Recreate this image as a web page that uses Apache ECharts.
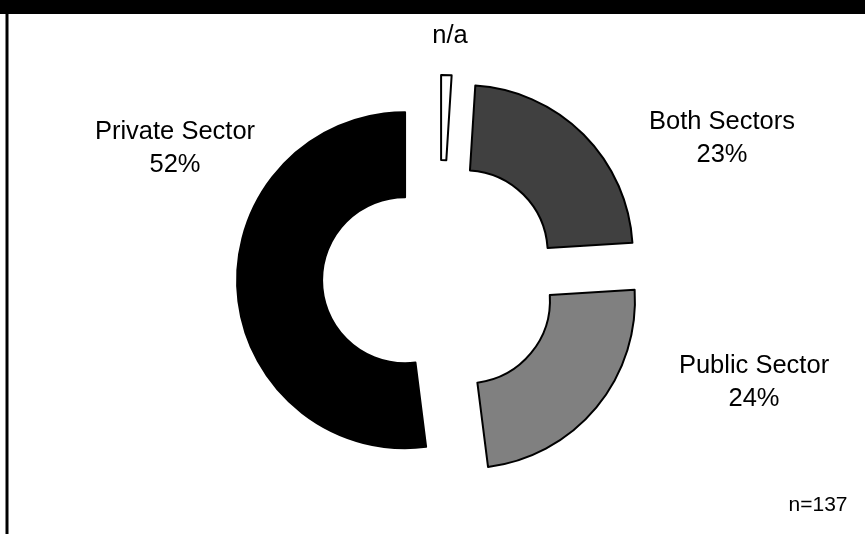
<!DOCTYPE html>
<html>
<head>
<meta charset="utf-8">
<script src="https://cdn.jsdelivr.net/npm/echarts@6/dist/echarts.min.js"></script>
<style>
  html, body { margin: 0; padding: 0; background: #ffffff; }
  #chart { width: 865px; height: 534px; }
</style>
</head>
<body>
<div id="chart"></div>
<script>
// Sector of employment, share of respondents (clockwise from 12 o'clock)
const categories = ['n/a', 'Both Sectors', 'Public Sector', 'Private Sector'];
const shares = [1, 23, 24, 52];
const sliceColors = ['#ffffff', '#404040', '#808080', '#000000'];
const sampleNote = 'n=137';

// label anchor points (centre of each label block), by slice order
const labelSpots = [[450, 36], [722, 138], [754, 382], [175, 148]];
const labelFont = '25.5px "Liberation Sans", Arial, sans-serif';

const chart = echarts.init(document.getElementById('chart'), null, { renderer: 'canvas' });

// slice captions: name plus share, except the n/a sliver which only shows its name
const captions = categories.map((name, i) => ({
  type: 'text',
  x: labelSpots[i][0],
  y: labelSpots[i][1],
  silent: true,
  style: {
    text: name === 'n/a' ? name : name + '\n' + shares[i] + '%',
    font: labelFont,
    lineHeight: 33,
    fill: '#000000',
    align: 'center',
    verticalAlign: 'middle'
  }
}));

chart.setOption({
  animation: false,
  backgroundColor: '#ffffff',
  graphic: [
    { type: 'rect', shape: { x: 0, y: 0, width: 865, height: 14 }, style: { fill: '#000000' }, silent: true },
    { type: 'rect', shape: { x: 5.5, y: 0, width: 3, height: 534 }, style: { fill: '#000000' }, silent: true },
    {
      type: 'text', x: 818, y: 505, silent: true,
      style: {
        text: sampleNote, font: '21px "Liberation Sans", Arial, sans-serif', fill: '#000000',
        align: 'center', verticalAlign: 'middle'
      }
    }
  ].concat(captions),
  series: [{
    type: 'pie',
    center: [440, 278],
    radius: [83, 168],
    startAngle: 90,
    clockwise: true,
    selectedMode: 'multiple',
    selectedOffset: 35,
    emphasis: { disabled: true },
    itemStyle: { borderColor: '#000000', borderWidth: 2 },
    select: { itemStyle: { borderColor: '#000000', borderWidth: 2 } },
    label: { show: false },
    labelLine: { show: false },
    data: categories.map((name, i) => ({
      name: name,
      value: shares[i],
      selected: true,
      itemStyle: { color: sliceColors[i] },
      select: { itemStyle: { color: sliceColors[i] } }
    }))
  }]
});
</script>
</body>
</html>
